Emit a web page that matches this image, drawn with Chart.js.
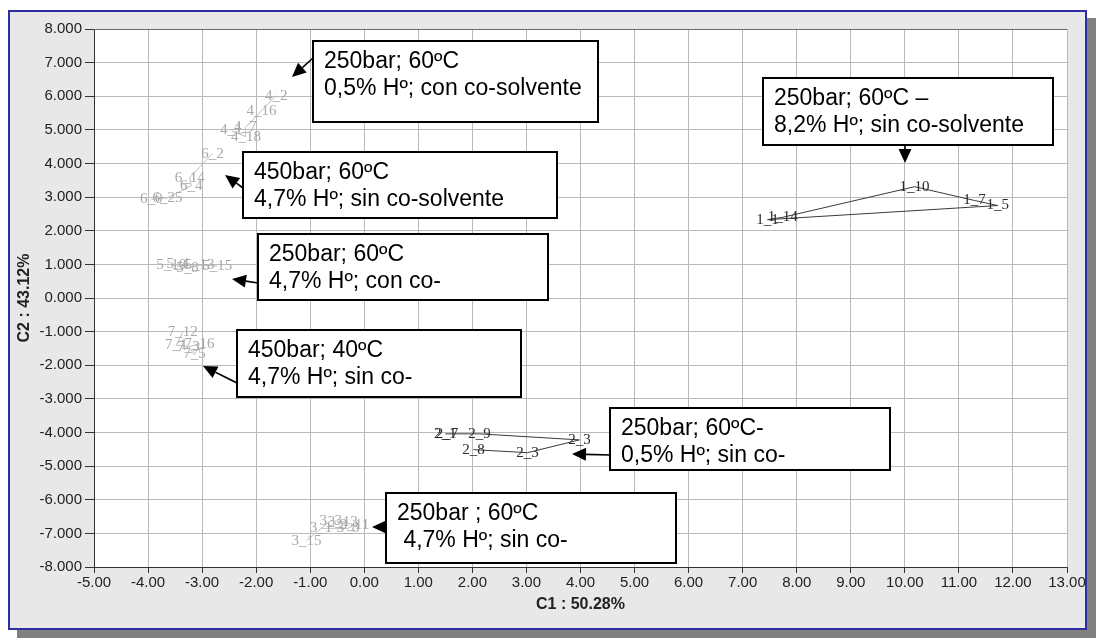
<!DOCTYPE html>
<html><head><meta charset="utf-8">
<script src="https://cdn.jsdelivr.net/npm/chart.js@4/dist/chart.umd.min.js"></script>
<style>
html,body{margin:0;padding:0;background:#fff;width:1098px;height:641px;overflow:hidden;}
#frame{position:absolute;left:8px;top:10px;width:1075px;height:616px;background:#e8e8e8;border:2px solid #2e2ea0;box-shadow:9px 8px 0 #808080;}
#wrap{position:absolute;left:0;top:0;width:1098px;height:641px;}
</style></head><body>
<div id="frame"></div>
<div id="wrap"><canvas id="c" width="1098" height="641"></canvas></div>
<script>
// ---- tick labels ----
const xTickLabels = ["-5.00","-4.00","-3.00","-2.00","-1.00","0.00","1.00","2.00","3.00","4.00","5.00","6.00","7.00","8.00","9.00","10.00","11.00","12.00","13.00"];
const yTickLabels = ["-8.000","-7.000","-6.000","-5.000","-4.000","-3.000","-2.000","-1.000","0.000","1.000","2.000","3.000","4.000","5.000","6.000","7.000","8.000"];
const xAxisTitle = "C1 : 50.28%";
const yAxisTitle = "C2 : 43.12%";

// ---- sample groups (PCA scores) ----
const g1Labels = ["1_1","1_14","1_10","1_7","1_5"];
const g1X = [7.46, 7.74, 10.18, 11.29, 11.72];
const g1Y = [2.33, 2.40, 3.31, 2.90, 2.75];
const g1Path = [1,2,3,4,0,1];

const g2Labels = ["2_1","2_7","2_9","2_3","2_3","2_8"];
const g2X = [1.50, 1.53, 2.13, 3.98, 3.02, 2.02];
const g2Y = [-4.04, -4.04, -4.04, -4.22, -4.60, -4.51];
const g2Path = [0,1,2,3,4,5];

const g3Labels = ["3_15","3_1","3_3","3_13","3_8","3_11"];
const g3X = [-1.07, -0.80, -0.62, -0.40, -0.30, -0.18];
const g3Y = [-7.22, -6.85, -6.62, -6.65, -6.85, -6.75];
const g3Path = [0,1,2,3,5,4,1];

const g4Labels = ["4_1","4_18","4_7","4_16","4_2"];
const g4X = [-2.46, -2.19, -2.20, -1.90, -1.63];
const g4Y = [4.98, 4.80, 5.07, 5.57, 6.02];
const g4Path = [0,1,2,3,4];

const g5Labels = ["5_10","5_4","5_8","5_13","5_15"];
const g5X = [-3.57, -3.45, -3.27, -3.05, -2.72];
const g5Y = [0.97, 1.00, 0.90, 0.97, 0.95];
const g5Path = [0,1,2,3,4];

const g6Labels = ["6_0","6_25","6_4","6_14","6_2"];
const g6X = [-3.94, -3.64, -3.20, -3.23, -2.81];
const g6Y = [2.93, 2.98, 3.34, 3.58, 4.29];
const g6Path = [0,1,2,3,4];

const g7Labels = ["7_12","7_1","7_3","7_16","7_5"];
const g7X = [-3.36, -3.48, -3.25, -3.05, -3.14];
const g7Y = [-1.02, -1.40, -1.45, -1.36, -1.68];
const g7Path = [0,1,2,3,4,2];

// ---- callout texts ----
const note1 = ["250bar; 60ºC","0,5% Hº; con co-solvente"];
const note2 = ["450bar; 60ºC","4,7% Hº; sin co-solvente"];
const note3 = ["250bar; 60ºC","4,7% Hº; con co-"];
const note4 = ["450bar; 40ºC","4,7% Hº; sin co-"];
const note5 = ["250bar; 60ºC –","8,2% Hº; sin co-solvente"];
const note6 = ["250bar; 60ºC-","0,5% Hº; sin co-"];
const note7 = ["250bar ; 60ºC"," 4,7% Hº; sin co-"];

// layout of callouts (pixels): box [x,y,w,h], arrow [fromX,fromY,tipX,tipY]
const callouts = [
  {text:note1, box:[313,41,285,81], arrow:[313,58,292,77]},
  {text:note2, box:[243,152,314,66], arrow:[243,188,225,175]},
  {text:note3, box:[258,234,290,66], arrow:[258,283,232,279]},
  {text:note4, box:[237,330,284,67], arrow:[237,383,203,366]},
  {text:note5, box:[763,78,290,67], arrow:[905,145,905,163]},
  {text:note6, box:[610,408,280,62], arrow:[610,455,572,454]},
  {text:note7, box:[386,493,290,70], arrow:[386,527,372,527]}
];

const DARK = '#2a2a2a', DARKLINE = '#3a3a3a';
const GRAY = '#a8a8a8', GRAYLINE = '#c0c0c0';
const groups = [
  {labels:g1Labels, xs:g1X, ys:g1Y, path:g1Path, text:DARK, line:DARKLINE},
  {labels:g2Labels, xs:g2X, ys:g2Y, path:g2Path, text:DARK, line:DARKLINE},
  {labels:g3Labels, xs:g3X, ys:g3Y, path:g3Path, text:GRAY, line:GRAYLINE},
  {labels:g4Labels, xs:g4X, ys:g4Y, path:g4Path, text:GRAY, line:GRAYLINE},
  {labels:g5Labels, xs:g5X, ys:g5Y, path:g5Path, text:GRAY, line:GRAYLINE},
  {labels:g6Labels, xs:g6X, ys:g6Y, path:g6Path, text:GRAY, line:GRAYLINE},
  {labels:g7Labels, xs:g7X, ys:g7Y, path:g7Path, text:GRAY, line:GRAYLINE}
];

const datasets = groups.map(g => ({
  data: g.path.map(i => ({x:g.xs[i], y:g.ys[i]})),
  showLine: true, borderColor: g.line, borderWidth: 1, pointRadius: 0, fill:false, tension:0
}));

const bgPlugin = {
  id:'bg',
  beforeDraw(chart){
    const {ctx, chartArea:a} = chart;
    ctx.save(); ctx.fillStyle='#fff'; ctx.fillRect(a.left,a.top,a.right-a.left,a.bottom-a.top); ctx.restore();
  },
  beforeDatasetsDraw(chart){
    const {ctx, chartArea:a} = chart;
    ctx.save(); ctx.strokeStyle='#6a6a6a'; ctx.lineWidth=1;
    ctx.beginPath(); ctx.moveTo(a.left, a.top+0.5); ctx.lineTo(a.right, a.top+0.5); ctx.stroke();
    ctx.restore();
  }
};

const labelPlugin = {
  id:'labels',
  afterDatasetsDraw(chart){
    const {ctx, scales:{x,y}} = chart;
    ctx.save();
    ctx.font = '15px "Liberation Serif", "Times New Roman", serif';
    ctx.textAlign='center'; ctx.textBaseline='middle';
    groups.forEach(g => {
      ctx.fillStyle = g.text;
      g.labels.forEach((l,i) => ctx.fillText(l, x.getPixelForValue(g.xs[i]), y.getPixelForValue(g.ys[i])));
    });
    ctx.restore();
  },
  afterDraw(chart){
    const ctx = chart.ctx;
    ctx.save();
    callouts.forEach(c => {
      const [bx,by,bw,bh] = c.box;
      ctx.fillStyle='#fff'; ctx.fillRect(bx,by,bw,bh);
      ctx.strokeStyle='#000'; ctx.lineWidth=2; ctx.strokeRect(bx,by,bw,bh);
      ctx.fillStyle='#000'; ctx.font='23px "Liberation Sans", Arial, sans-serif';
      ctx.textAlign='left'; ctx.textBaseline='middle';
      c.text.forEach((t,i)=> ctx.fillText(t, bx+11, by+21+i*27));
      const [x0,y0,x1,y1] = c.arrow;
      const ang = Math.atan2(y1-y0, x1-x0);
      const L=14, W=6.5;
      const bxp = x1 - L*Math.cos(ang), byp = y1 - L*Math.sin(ang);
      ctx.strokeStyle='#000'; ctx.lineWidth=1.6;
      ctx.beginPath(); ctx.moveTo(x0,y0); ctx.lineTo(bxp,byp); ctx.stroke();
      ctx.beginPath();
      ctx.moveTo(x1,y1);
      ctx.lineTo(bxp - W*Math.sin(ang), byp + W*Math.cos(ang));
      ctx.lineTo(bxp + W*Math.sin(ang), byp - W*Math.cos(ang));
      ctx.closePath(); ctx.fill();
    });
    ctx.restore();
  }
};

const tickFont = {family:'"Liberation Sans", Arial, sans-serif', size:15};
const titleFont = {family:'"Liberation Sans", Arial, sans-serif', size:16, weight:'bold'};
new Chart(document.getElementById('c'), {
  type:'scatter',
  data:{datasets},
  options:{
    responsive:false, animation:false,
    layout:{padding:{left:0, top:29, right:31, bottom:0}},
    plugins:{legend:{display:false}, tooltip:{enabled:false}},
    scales:{
      x:{type:'linear', min:-5, max:13,
        ticks:{stepSize:1, autoSkip:false, maxRotation:0, color:'#222', font:tickFont, padding:1,
          callback:(v)=> xTickLabels[Math.round(v+5)]},
        grid:{color:'#bababa', tickColor:'#333', tickLength:6, lineWidth:1},
        border:{color:'#333', width:1},
        title:{display:true, text:xAxisTitle, color:'#222', font:titleFont, padding:{top:0,bottom:27}},
        afterFit:(s)=>{s.height=74;}
      },
      y:{type:'linear', min:-8, max:8,
        ticks:{stepSize:1, autoSkip:false, color:'#222', font:tickFont, padding:3,
          callback:(v)=> yTickLabels[Math.round(v+8)]},
        grid:{color:'#bababa', tickColor:'#333', tickLength:9, lineWidth:1},
        border:{color:'#333', width:1},
        title:{display:true, text:yAxisTitle, color:'#222', font:titleFont, padding:{top:15,bottom:0}},
        afterFit:(s)=>{s.width=94;}
      }
    }
  },
  plugins:[bgPlugin, labelPlugin]
});
</script>
</body></html>
